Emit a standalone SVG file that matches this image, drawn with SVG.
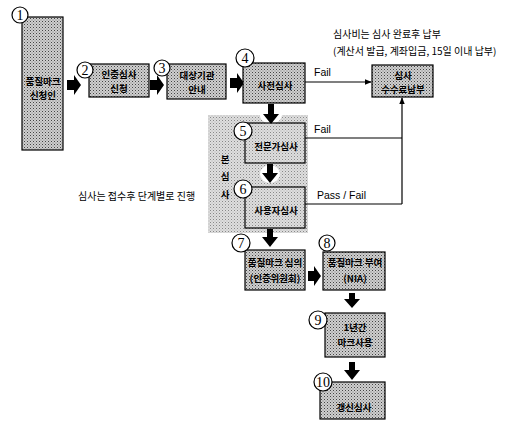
<svg xmlns="http://www.w3.org/2000/svg" width="511" height="422" viewBox="0 0 511 422">
<defs>
<pattern id="dots" width="3" height="3" patternUnits="userSpaceOnUse">
<rect width="3" height="3" fill="#cfcfcf"/>
<rect width="1" height="1" fill="#444"/>
<rect x="1.5" y="1.5" width="1" height="1" fill="#777"/>
</pattern>
<pattern id="light" width="3" height="3" patternUnits="userSpaceOnUse">
<rect width="3" height="3" fill="#dedede"/>
<rect width="1" height="1" fill="#888"/>
<rect x="1.5" y="1.5" width="1" height="1" fill="#b0b0b0"/>
</pattern>
<marker id="ah" viewBox="0 0 10 10" refX="9" refY="5" markerWidth="6" markerHeight="6" orient="auto">
<path d="M0,1 L10,5 L0,9 z" fill="#000"/>
</marker>
</defs>
<style>
.box{fill:url(#dots);stroke:#000;stroke-width:1.2}
.num{fill:#fff;stroke:#000;stroke-width:1.2}
.nt{font-family:"Liberation Serif",serif;font-size:14px;text-anchor:middle}
.t{font-family:"Noto Sans CJK KR",sans-serif;font-size:9.5px;font-weight:bold;text-anchor:middle;fill:#000}
.lbl{font-family:"Liberation Sans",sans-serif;font-size:10.5px;fill:#000}
.note{font-family:"Noto Sans CJK KR",sans-serif;font-size:10px;fill:#000}
.ln{stroke:#000;stroke-width:1.2;fill:none}
.blk{fill:#000}
</style>
<rect width="511" height="422" fill="#fff"/>

<!-- main review shaded region -->
<g id="region">
<rect x="208" y="115" width="100" height="118" fill="url(#light)"/>
<text class="t" x="225" y="163" font-size="11">본</text>
<text class="t" x="225" y="180" font-size="11">심</text>
<text class="t" x="225" y="198" font-size="11">사</text>
</g>

<g id="connectors">
<!-- block arrows -->
<path class="blk" d="M67,80 h7 v-5 l7,10 l-7,10 v-5 h-7 z"/>
<path class="blk" d="M150,80 h7 v-5 l7,10 l-7,10 v-5 h-7 z"/>
<path class="blk" d="M230,78 h7 v-5 l7,10 l-7,10 v-5 h-7 z"/>
<path class="blk" d="M308,271 h6 v-5 l7,10 l-7,10 v-5 h-6 z"/>
<ellipse cx="271" cy="115" rx="11" ry="9" fill="#fff"/>
<path class="blk" d="M268,104 v10 h-5 l8,10 l8,-10 h-5 v-10 z"/>
<ellipse cx="270" cy="174" rx="10" ry="9" fill="#fff"/>
<path class="blk" d="M267,164 v9 h-5 l8,10 l8,-10 h-5 v-9 z"/>
<path class="blk" d="M267,229 v8 h-5 l8,10 l8,-10 h-5 v-8 z"/>
<path class="blk" d="M349,293 v6 h-5 l8,9 l8,-9 h-5 v-6 z"/>
<path class="blk" d="M349,362 v8 h-5 l8,10 l8,-10 h-5 v-8 z"/>
<!-- fail lines -->
<line class="ln" x1="305" y1="82" x2="371" y2="82" marker-end="url(#ah)"/>
<line class="ln" x1="305" y1="138" x2="402" y2="138"/>
<line class="ln" x1="305" y1="204" x2="402" y2="204"/>
<line class="ln" x1="402" y1="204" x2="402" y2="98" marker-end="url(#ah)"/>
<text class="lbl" x="314" y="76">Fail</text>
<text class="lbl" x="314" y="133">Fail</text>
<text class="lbl" x="317" y="199">Pass / Fail</text>
</g>

<g id="n1">
<rect class="box" x="22" y="17" width="41" height="133"/>
<text class="t" x="43" y="85">품질마크</text>
<text class="t" x="43" y="99">신청인</text>
<circle class="num" cx="20" cy="15" r="8"/>
<text class="nt" x="20" y="20">1</text>
</g>

<g id="n2">
<rect class="box" x="89" y="64" width="60" height="33"/>
<text class="t" x="119" y="78">인증심사</text>
<text class="t" x="119" y="92">신청</text>
<circle class="num" cx="85" cy="70" r="8"/>
<text class="nt" x="85" y="75">2</text>
</g>

<g id="n3">
<rect class="box" x="167" y="64" width="59" height="35"/>
<text class="t" x="197" y="79">대상기관</text>
<text class="t" x="197" y="93">안내</text>
<circle class="num" cx="162" cy="68" r="8"/>
<text class="nt" x="162" y="73">3</text>
</g>

<g id="n4">
<rect class="box" x="243" y="63" width="62" height="40"/>
<text class="t" x="275" y="89">사전심사</text>
<circle class="num" cx="245" cy="58" r="9"/>
<text class="nt" x="245" y="63">4</text>
</g>

<g id="fee">
<rect class="box" x="372" y="65" width="61" height="32"/>
<text class="t" x="403" y="79">심사</text>
<text class="t" x="403" y="93">수수료납부</text>
</g>

<g id="n5">
<rect class="ln" x="245" y="123" width="60" height="40"/>
<text class="t" x="276" y="150">전문가심사</text>
<circle class="num" cx="243" cy="131" r="9"/>
<text class="nt" x="243" y="136">5</text>
</g>

<g id="n6">
<rect class="ln" x="245" y="187" width="60" height="41"/>
<text class="t" x="276" y="214">사용자심사</text>
<circle class="num" cx="243" cy="189" r="9"/>
<text class="nt" x="243" y="194">6</text>
</g>

<g id="n7">
<rect class="box" x="245" y="250" width="60" height="40"/>
<text class="t" x="275" y="266">품질마크 심의</text>
<text class="t" x="275" y="282">(인증위원회)</text>
<circle class="num" cx="241" cy="243" r="9"/>
<text class="nt" x="241" y="248">7</text>
</g>

<g id="n8">
<rect class="box" x="323" y="252" width="62" height="38"/>
<text class="t" x="355" y="266">품질마크 부여</text>
<text class="t" x="355" y="282">(NIA)</text>
<circle class="num" cx="327" cy="243" r="8"/>
<text class="nt" x="327" y="248">8</text>
</g>

<g id="n9">
<rect class="box" x="325" y="313" width="60" height="44"/>
<text class="t" x="355" y="331">1년간</text>
<text class="t" x="355" y="346">마크사용</text>
<circle class="num" cx="318" cy="320" r="9"/>
<text class="nt" x="318" y="325">9</text>
</g>

<g id="n10">
<rect class="box" x="320" y="382" width="65" height="37"/>
<text class="t" x="354" y="411">갱신심사</text>
<circle class="num" cx="323" cy="382" r="9"/>
<text class="nt" x="323" y="387" font-size="12">10</text>
</g>

<g id="notes">
<text class="note" x="333" y="38">심사비는 심사 완료후 납부</text>
<text class="note" x="333" y="55" font-size="9.5">(계산서 발급, 계좌입금, 15일 이내 납부)</text>
<text class="note" x="78" y="200">심사는 접수후 단계별로 진행</text>
</g>
</svg>
